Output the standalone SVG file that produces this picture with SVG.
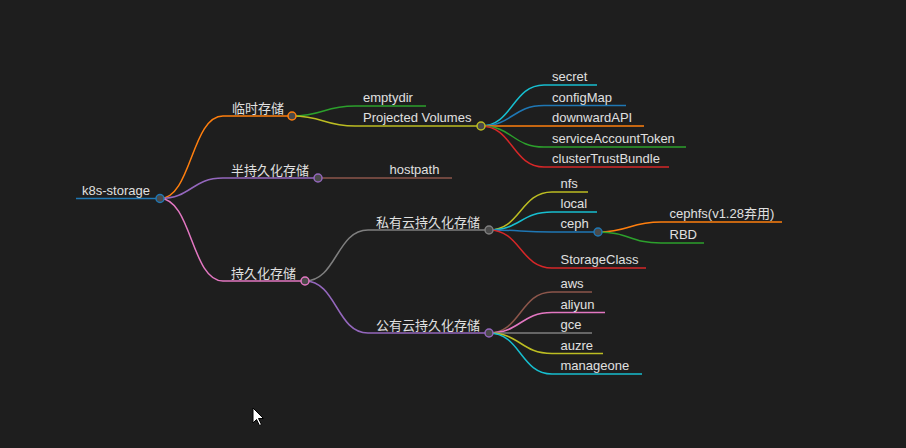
<svg xmlns="http://www.w3.org/2000/svg" width="906" height="448" viewBox="0 0 906 448">
<style>
.bg{fill:#1e1e1e}
.ln{fill:none;stroke-width:1.5}
.dot{fill:#4a4a4a;stroke-width:1.5}
text{font-family:"Segoe UI","Liberation Sans","Noto Sans CJK SC",sans-serif;font-size:13px;fill:#e0e0e0}
.c0{stroke:#1f77b4}.c1{stroke:#ff7f0e}.c2{stroke:#2ca02c}.c3{stroke:#d62728}.c4{stroke:#9467bd}
.c5{stroke:#8c564b}.c6{stroke:#e377c2}.c7{stroke:#7f7f7f}.c8{stroke:#bcbd22}.c9{stroke:#17becf}
</style>
<rect class="bg" x="0" y="0" width="906" height="448"/>
<g id="connectors">
<path class="ln c1" d="M160,198.5 C191.5,198.5 191.5,116 223,116"/>
<path class="ln c4" d="M160,198.5 C191.5,198.5 191.5,178 223,178"/>
<path class="ln c6" d="M160,198.5 C191.5,198.5 191.5,281 223,281"/>
<path class="ln c2" d="M292,116 C323.5,116 323.5,106 355,106"/>
<path class="ln c8" d="M292,116 C323.5,116 323.5,126 355,126"/>
<path class="ln c5" d="M318,178 L381,178"/>
<path class="ln c7" d="M305,281 C336.5,281 336.5,230 368,230"/>
<path class="ln c4" d="M305,281 C336.5,281 336.5,333 368,333"/>
<path class="ln c9" d="M481,126 C512.5,126 512.5,85 544,85"/>
<path class="ln c0" d="M481,126 C512.5,126 512.5,105.5 544,105.5"/>
<path class="ln c1" d="M481,126 L544,126"/>
<path class="ln c2" d="M481,126 C512.5,126 512.5,147 544,147"/>
<path class="ln c3" d="M481,126 C512.5,126 512.5,167 544,167"/>
<path class="ln c8" d="M489,230 C520.5,230 520.5,192 552,192"/>
<path class="ln c9" d="M489,230 C520.5,230 520.5,212 552,212"/>
<path class="ln c0" d="M489,230 C520.5,230 520.5,232 552,232"/>
<path class="ln c3" d="M489,230 C520.5,230 520.5,268 552,268"/>
<path class="ln c1" d="M598,232 C629.5,232 629.5,222 661,222"/>
<path class="ln c2" d="M598,232 C629.5,232 629.5,243 661,243"/>
<path class="ln c5" d="M489,333 C520.5,333 520.5,292 552,292"/>
<path class="ln c6" d="M489,333 C520.5,333 520.5,312.5 552,312.5"/>
<path class="ln c7" d="M489,333 L552,333"/>
<path class="ln c8" d="M489,333 C520.5,333 520.5,353.5 552,353.5"/>
<path class="ln c9" d="M489,333 C520.5,333 520.5,374 552,374"/>
</g>
<g id="n-root"><path class="ln c0" d="M76,198.5 H160"/><circle class="dot c0" cx="160" cy="198.5" r="4"/><text x="82" y="195">k8s-storage</text></g>
<g id="n-temp"><path class="ln c1" d="M223,116 H292"/><circle class="dot c1" cx="292" cy="116" r="4"/><text x="232" y="112.5">临时存储</text></g>
<g id="n-semi"><path class="ln c4" d="M223,178 H318"/><circle class="dot c4" cx="318" cy="178" r="4"/><text x="231" y="174.5">半持久化存储</text></g>
<g id="n-persist"><path class="ln c6" d="M223,281 H305"/><circle class="dot c6" cx="305" cy="281" r="4"/><text x="231" y="277.5">持久化存储</text></g>
<g id="n-emptydir"><path class="ln c2" d="M355,106 H426"/><text x="363" y="102">emptydir</text></g>
<g id="n-projected"><path class="ln c8" d="M355,126 H481"/><circle class="dot c8" cx="481" cy="126" r="4"/><text x="363" y="122">Projected Volumes</text></g>
<g id="n-hostpath"><path class="ln c5" d="M381,178 H452"/><text x="389.5" y="174">hostpath</text></g>
<g id="n-private"><path class="ln c7" d="M368,230 H489"/><circle class="dot c7" cx="489" cy="230" r="4"/><text x="376" y="226.5">私有云持久化存储</text></g>
<g id="n-public"><path class="ln c4" d="M368,333 H489"/><circle class="dot c4" cx="489" cy="333" r="4"/><text x="376" y="329.5">公有云持久化存储</text></g>
<g id="n-secret"><path class="ln c9" d="M544,85 H597"/><text x="552" y="81">secret</text></g>
<g id="n-configmap"><path class="ln c0" d="M544,105.5 H626"/><text x="552" y="101.5">configMap</text></g>
<g id="n-downward"><path class="ln c1" d="M544,126 H644"/><text x="552" y="122">downwardAPI</text></g>
<g id="n-sat"><path class="ln c2" d="M544,147 H686"/><text x="552" y="143">serviceAccountToken</text></g>
<g id="n-ctb"><path class="ln c3" d="M544,167 H669"/><text x="552" y="163">clusterTrustBundle</text></g>
<g id="n-nfs"><path class="ln c8" d="M552,192 H588"/><text x="560.5" y="188">nfs</text></g>
<g id="n-local"><path class="ln c9" d="M552,212 H597"/><text x="560.5" y="208">local</text></g>
<g id="n-ceph"><path class="ln c0" d="M552,232 H598"/><circle class="dot c0" cx="598" cy="232" r="4"/><text x="560.5" y="228">ceph</text></g>
<g id="n-storageclass"><path class="ln c3" d="M552,268 H646"/><text x="560.5" y="264">StorageClass</text></g>
<g id="n-cephfs"><path class="ln c1" d="M661,222 H782"/><text x="669.5" y="218">cephfs(v1.28弃用)</text></g>
<g id="n-rbd"><path class="ln c2" d="M661,243 H704"/><text x="669.5" y="239">RBD</text></g>
<g id="n-aws"><path class="ln c5" d="M552,292 H592"/><text x="560.5" y="288">aws</text></g>
<g id="n-aliyun"><path class="ln c6" d="M552,312.5 H605"/><text x="560.5" y="308.5">aliyun</text></g>
<g id="n-gce"><path class="ln c7" d="M552,333 H592"/><text x="560.5" y="329">gce</text></g>
<g id="n-auzre"><path class="ln c8" d="M552,353.5 H603"/><text x="560.5" y="349.5">auzre</text></g>
<g id="n-manageone"><path class="ln c9" d="M552,374 H642"/><text x="560.5" y="370">manageone</text></g>
<polygon points="253,408 253,423 256.5,419.5 259.5,425.5 261.5,424.5 258.5,418.5 263.5,418.5" fill="#ffffff" stroke="#000000" stroke-width="1"/>
</svg>
